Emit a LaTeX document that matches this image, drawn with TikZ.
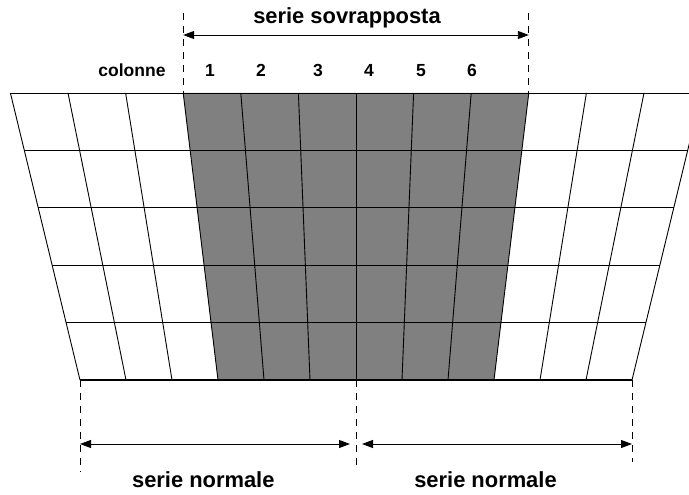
\documentclass[tikz,border=0pt]{standalone}
\usepackage{fontspec}
\setmainfont{Liberation Sans}
\usetikzlibrary{arrows.meta}
\begin{document}
\begin{tikzpicture}[x=1pt,y=-1pt,
  grid/.style={black,line width=0.9pt},
  dim/.style={black,line width=0.9pt,{Triangle[length=11pt,width=8pt]}-{Triangle[length=11pt,width=8pt]}},
  guide/.style={black,line width=0.8pt,dash pattern=on 7pt off 6pt},
  big/.style={font=\fontsize{21.9}{24}\selectfont\bfseries,inner sep=0pt,anchor=base},
  small/.style={font=\fontsize{17.5}{20}\selectfont\bfseries,inner sep=0pt,anchor=base}]
\useasboundingbox (0,0) rectangle (689,495);
\clip (0,0) rectangle (689,495);
% shaded overlapping series
\fill[gray] (183.2,93) -- (528.8,93) -- (494,380) -- (218,380) -- cycle;
% column lines
\foreach \i in {-6,...,6} \draw[grid] ({356+57.6*\i},93) -- ({356+46*\i},380);
% row lines
\foreach \k in {1,...,4} {
  \pgfmathsetmacro\yy{93+57.4*\k}
  \pgfmathsetmacro\xl{10.4+69.6*(\yy-93)/287}
  \draw[grid] (\xl,\yy) -- ({712-\xl},\yy);
}
\draw[grid] (10.4,93) -- (701.6,93);
\draw[grid,line width=1.5pt] (80,380) -- (632,380);
% guide coordinates
\coordinate (gTLa) at (183.2,13);  \coordinate (gTLb) at (183.2,93);
\coordinate (gTRa) at (528.8,13);  \coordinate (gTRb) at (528.8,93);
\coordinate (gBLa) at (80,380);    \coordinate (gBLb) at (80,472);
\coordinate (gBMa) at (356,380);   \coordinate (gBMb) at (356,467);
\coordinate (gBRa) at (632,380);   \coordinate (gBRb) at (632,462);
\draw[guide] (gTLa) -- (gTLb);
\draw[guide] (gTRa) -- (gTRb);
\draw[guide] (gBLa) -- (gBLb);
\draw[guide] (gBMa) -- (gBMb);
\draw[guide] (gBRa) -- (gBRb);
% dimension arrows
\coordinate (aT1) at (183.2,35); \coordinate (aT2) at (528.8,35);
\coordinate (aL1) at (80,444);   \coordinate (aL2) at (350,444);
\coordinate (aR1) at (362,444);  \coordinate (aR2) at (632,444);
\draw[dim] (aT1) -- (aT2);
\draw[dim] (aL1) -- (aL2);
\draw[dim] (aR1) -- (aR2);
% labels
\node[big] (tsov) at (347,23.5) {serie sovrapposta};
\node[small] (tcol) at (132,77) {colonne};
\node[small] (c1) at (210,77) {1};
\node[small] (c2) at (261,77) {2};
\node[small] (c3) at (318,77) {3};
\node[small] (c4) at (369,77) {4};
\node[small] (c5) at (421,77) {5};
\node[small] (c6) at (472,77) {6};
\node[big] (tn1) at (203.3,487.7) {serie normale};
\node[big] (tn2) at (485.5,487.7) {serie normale};
\end{tikzpicture}
\end{document}
